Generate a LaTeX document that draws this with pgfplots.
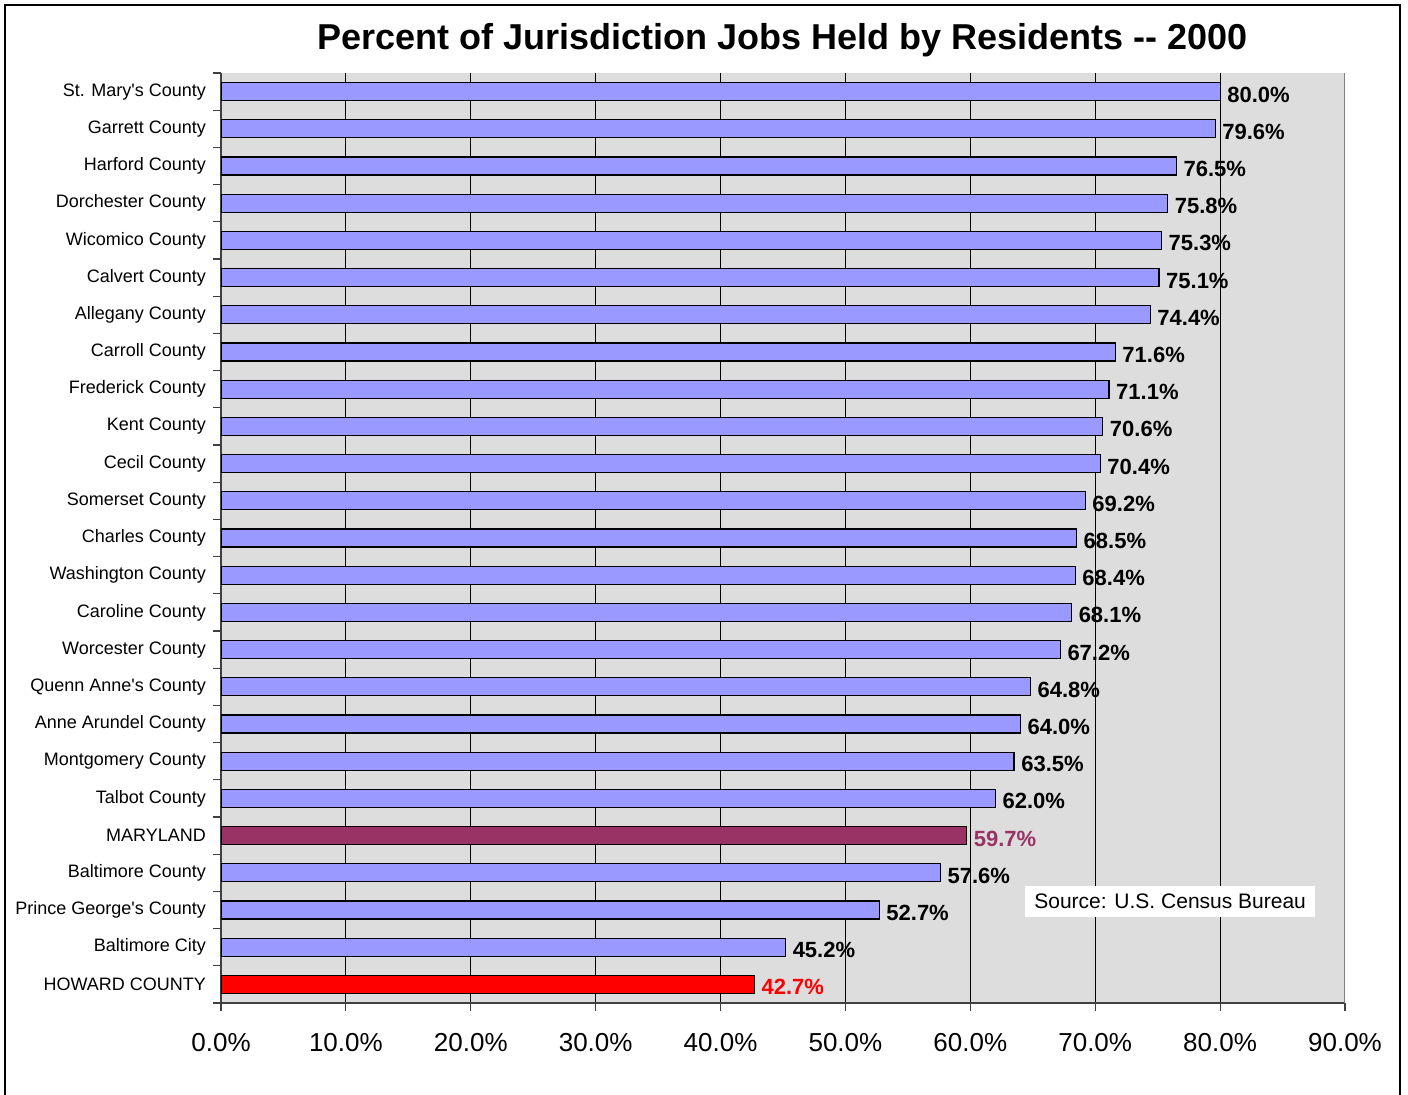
\documentclass[border=0pt]{standalone}
\usepackage{pgfplots}
\pgfplotsset{compat=1.18}
\usepackage{fontspec}
\setmainfont{Liberation Sans}
\definecolor{barblue}{HTML}{9999FF}
\definecolor{mdpurple}{HTML}{993366}
\definecolor{plotgray}{HTML}{DDDDDD}

\begin{document}
\begin{tikzpicture}[x=1pt,y=1pt]
\useasboundingbox (-110.5,-46) rectangle (593.5,501.5);
\draw[black, line width=0.6pt] (-108,-46) -- (-108,499) -- (589.5,499) -- (589.5,-46);
\node[font=\bfseries\fontsize{18}{22}\selectfont, anchor=base] at (280.75,476.5)
  {Percent of Jurisdiction Jobs Held by Residents -{}- 2000};
\begin{axis}[
  at={(0,0)}, anchor=south west,
  scale only axis, width=562pt, height=465pt,
  xbar, bar width=9pt,
  xmin=0, xmax=90, ymin=-0.5, ymax=24.5,
  axis background/.style={fill=plotgray},
  axis x line*=bottom, axis y line*=left,
  axis line style={-, black!75, line width=0.6pt},
  tick align=outside, major tick length=4pt,
  tick style={black!75, line width=0.6pt},
  xtick={0,10,...,90},
  xticklabel={\pgfmathprintnumber[fixed,fixed zerofill,precision=1]{\tick}\%},
  xticklabel style={font=\fontsize{13}{15}\selectfont, yshift=-7.5pt},
  xmajorgrids, major grid style={black, line width=0.5pt},
  ytick={-0.5,0.5,...,24.5},
  y tick label as interval,
  yticklabels={HOWARD COUNTY, Baltimore City, Prince George\textquotesingle s County\hspace{2.5pt},
    Baltimore County, MARYLAND, Talbot County, Montgomery County,
    Anne Arundel County, Quenn Anne\textquotesingle s County, Worcester County, Caroline County,
    Washington County, Charles County, Somerset County, Cecil County, Kent County,
    Frederick County\hspace{2.5pt}, Carroll County, Allegany County, Calvert County,
    Wicomico County, Dorchester County, Harford County, Garrett County,
    St. Mary\textquotesingle s County},
  yticklabel style={font=\fontsize{9}{11}\selectfont},
  /pgf/number format/assume math mode=true,
  point meta=x,
  nodes near coords={\pgfmathprintnumber[fixed,fixed zerofill,precision=1]{\pgfplotspointmeta}\%},
  every node near coord/.append style={font=\bfseries\fontsize{11}{13}\selectfont, yshift=-1.5pt},
]
\addplot[xbar, bar shift=0pt, draw=black, line width=0.6pt, fill=barblue] coordinates {
  (45.2,1) (52.7,2) (57.6,3) (62.0,5) (63.5,6) (64.0,7) (64.8,8) (67.2,9)
  (68.1,10) (68.4,11) (68.5,12) (69.2,13) (70.4,14) (70.6,15) (71.1,16)
  (71.6,17) (74.4,18) (75.1,19) (75.3,20) (75.8,21) (76.5,22) (79.6,23) (80.0,24)};
\addplot[xbar, bar shift=0pt, draw=black, line width=0.6pt, fill=mdpurple,
  every node near coord/.append style={text=mdpurple}] coordinates {(59.7,4)};
\addplot[xbar, bar shift=0pt, draw=black, line width=0.6pt, fill=red,
  every node near coord/.append style={text=red}] coordinates {(42.7,0)};
\draw[gray, line width=0.8pt] (rel axis cs:1,0) -- (rel axis cs:1,1);
\node[fill=white, inner xsep=4.75pt, minimum height=15.5pt,
  font=\fontsize{10.5}{12}\selectfont] at (axis cs:76,2.23) {Source: U.S. Census Bureau};
\end{axis}
\end{tikzpicture}
\end{document}
